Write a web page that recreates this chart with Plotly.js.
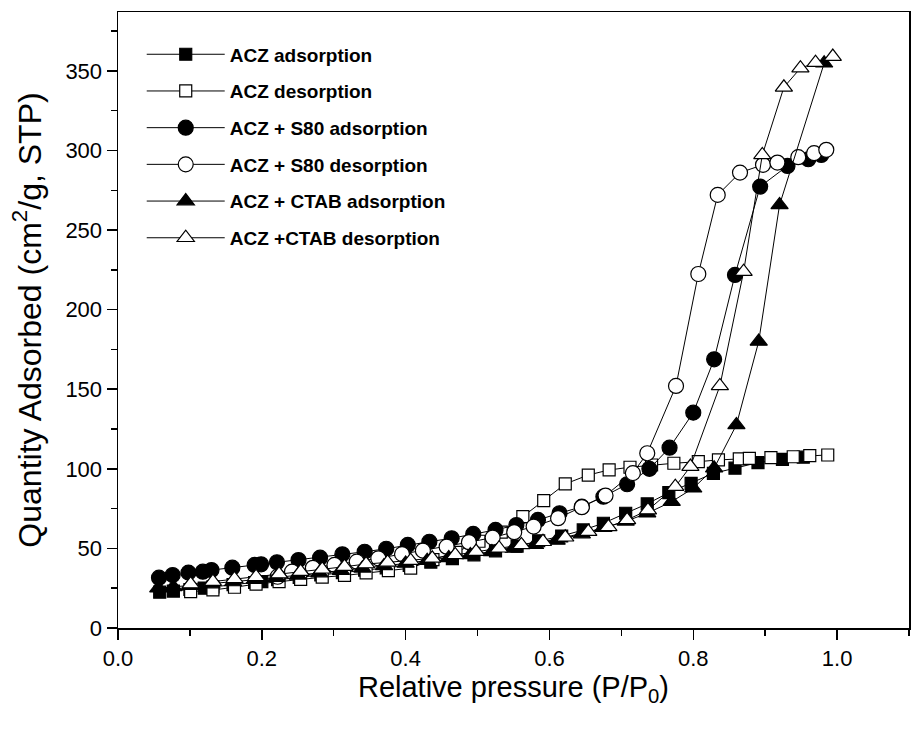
<!DOCTYPE html>
<html>
<head>
<meta charset="utf-8">
<script src="https://cdn.plot.ly/plotly-3.0.1.min.js"></script>
<style>html,body{margin:0;padding:0;background:#fff;}#chart{width:913px;height:732px;}</style>
</head>
<body>
<div id="chart"></div>
<script>
const aczAdsX = [0.058,0.077,0.10,0.12,0.132,0.16,0.19,0.20,0.222,0.252,0.282,0.312,0.343,0.373,0.405,0.435,0.465,0.495,0.525,0.555,0.585,0.617,0.647,0.675,0.706,0.736,0.766,0.797,0.828,0.858,0.890,0.924,0.953];
const aczAdsY = [22.5,23.2,24.2,25.0,25.8,27.2,28.6,29.1,30.3,31.8,33.3,34.8,36.3,37.8,39.4,41.4,43.6,46.0,48.5,51.5,54.8,57.8,61.6,65.8,72.1,78.0,85.0,90.9,97.2,100.4,103.9,106.0,107.3];

const aczDesX = [0.101,0.132,0.162,0.192,0.224,0.254,0.284,0.315,0.345,0.376,0.407,0.438,0.470,0.502,0.533,0.563,0.592,0.622,0.654,0.683,0.712,0.742,0.773,0.807,0.835,0.864,0.878,0.908,0.939,0.962,0.987];
const aczDesY = [22.8,23.9,25.6,27.6,29.1,30.6,31.9,33.0,34.6,36.0,37.6,43.0,47.5,54.5,60.2,70.0,80.0,90.5,96.1,99.3,101.0,102.4,103.5,104.5,105.6,106.2,106.6,107.0,107.6,108.3,108.7];

const s80AdsX = [0.057,0.076,0.098,0.118,0.130,0.159,0.190,0.199,0.221,0.251,0.281,0.312,0.343,0.373,0.403,0.433,0.464,0.494,0.525,0.554,0.584,0.614,0.645,0.675,0.708,0.739,0.767,0.800,0.829,0.858,0.893,0.931,0.960,0.978];
const s80AdsY = [31.6,33.3,34.8,35.4,36.4,37.9,39.6,40.0,41.3,42.7,44.2,46.3,47.9,49.8,52.2,54.2,56.4,59.1,61.6,64.7,67.9,72.1,76.2,82.5,90.3,100.0,113.3,135.3,168.8,221.8,277.3,290.3,294.5,297.2];

const s80DesX = [0.222,0.242,0.271,0.301,0.332,0.362,0.395,0.424,0.457,0.488,0.521,0.551,0.578,0.612,0.645,0.678,0.716,0.736,0.776,0.807,0.834,0.865,0.897,0.917,0.946,0.968,0.985];
const s80DesY = [32.2,35.4,37.8,39.6,41.7,43.8,46.4,48.6,51.1,53.9,56.8,60.2,63.7,69.0,75.9,83.2,97.3,109.8,152.1,222.4,272.1,286.1,291.0,292.4,295.8,298.3,300.4];

const ctabAdsX = [0.056,0.077,0.10,0.13,0.16,0.19,0.22,0.25,0.28,0.31,0.34,0.37,0.40,0.43,0.46,0.49,0.52,0.55,0.58,0.61,0.645,0.675,0.706,0.736,0.770,0.800,0.829,0.860,0.891,0.920,0.982];
const ctabAdsY = [25.0,25.8,26.6,27.6,28.9,30.3,31.7,33.1,34.5,36.0,37.5,39.0,40.6,42.3,44.0,45.9,47.8,50.0,52.3,55.0,59.0,63.0,67.0,72.1,79.4,87.8,100.4,127.6,180.0,265.8,354.8];

const ctabDesX = [0.101,0.132,0.162,0.192,0.224,0.254,0.284,0.315,0.345,0.375,0.407,0.437,0.469,0.498,0.530,0.561,0.591,0.622,0.654,0.682,0.708,0.737,0.775,0.796,0.837,0.870,0.896,0.926,0.949,0.970,0.994];
const ctabDesY = [27.6,29.1,30.8,32.2,33.9,35.4,36.9,38.5,40.2,41.2,42.3,43.8,45.9,48.0,50.1,52.2,54.2,57.0,60.5,63.5,67.9,74.1,88.8,101.4,152.1,223.9,297.2,339.7,351.7,355.2,359.0];

const seriesNames = ["ACZ adsorption","ACZ desorption","ACZ + S80 adsorption","ACZ + S80 desorption","ACZ + CTAB adsorption","ACZ +CTAB desorption"];
const xTickVals = [0.0,0.2,0.4,0.6,0.8,1.0];
const xTickText = ["0.0","0.2","0.4","0.6","0.8","1.0"];
const yTickVals = [0,50,100,150,200,250,300,350];

function tr(x, y, name, symbol, size, group, filled) {
  return {
    x: x, y: y, name: name, type: 'scatter', mode: 'lines+markers',
    legendgroup: group,
    line: {color: '#000', width: 1},
    marker: {symbol: symbol, size: size, color: filled ? '#000' : '#fff',
             line: {color: '#000', width: 1.2}}
  };
}

const data = [
  tr(aczAdsX, aczAdsY, seriesNames[0], 'square', 12, 'g1', true),
  tr(aczDesX, aczDesY, seriesNames[1], 'square', 12, 'g2', false),
  tr(s80AdsX, s80AdsY, seriesNames[2], 'circle', 15, 'g3', true),
  tr(s80DesX, s80DesY, seriesNames[3], 'circle', 15, 'g4', false),
  tr(ctabAdsX, ctabAdsY, seriesNames[4], 'triangle-up', 15, 'g5', true),
  tr(ctabDesX, ctabDesY, seriesNames[5], 'triangle-up', 15, 'g6', false)
];

const layout = {
  width: 913, height: 732,
  margin: {l: 118, r: 4, t: 12, b: 104},
  paper_bgcolor: '#fff', plot_bgcolor: '#fff',
  showlegend: true,
  legend: {
    x: 0.030, y: 0.962, xanchor: 'left', yanchor: 'top',
    bgcolor: 'rgba(0,0,0,0)', borderwidth: 0,
    traceorder: 'grouped', tracegroupgap: 9,
    itemwidth: 78,
    font: {family: 'Liberation Sans, Arial, sans-serif', size: 19, color: '#000', weight: 'bold'}
  },
  xaxis: {
    range: [0, 1.1], showgrid: false, zeroline: false,
    showline: true, linecolor: '#000', linewidth: 1.5, mirror: true,
    ticks: 'outside', ticklen: 10, tickwidth: 1.5, tickcolor: '#000',
    tickvals: xTickVals, ticktext: xTickText,
    minor: {dtick: 0.1, tick0: 0, ticks: 'outside', ticklen: 6, tickwidth: 1.5, tickcolor: '#000'},
    tickfont: {family: 'Liberation Sans, Arial, sans-serif', size: 22, color: '#000'},
    title: {text: 'Relative pressure (P/P<sub>0</sub>)', standoff: 0,
            font: {family: 'Liberation Sans, Arial, sans-serif', size: 29, color: '#000'}}
  },
  yaxis: {
    range: [0, 387], showgrid: false, zeroline: false,
    showline: true, linecolor: '#000', linewidth: 1.5, mirror: true,
    ticks: 'outside', ticklen: 10, tickwidth: 1.5, tickcolor: '#000',
    tickvals: yTickVals,
    minor: {dtick: 25, tick0: 0, ticks: 'outside', ticklen: 6, tickwidth: 1.5, tickcolor: '#000'},
    tickfont: {family: 'Liberation Sans, Arial, sans-serif', size: 22, color: '#000'},
    title: {text: 'Quantity Adsorbed (cm<sup>2</sup>/g, STP)', standoff: 14,
            font: {family: 'Liberation Sans, Arial, sans-serif', size: 32, color: '#000'}}
  }
};

Plotly.newPlot('chart', data, layout, {staticPlot: true, displayModeBar: false});
</script>
</body>
</html>
